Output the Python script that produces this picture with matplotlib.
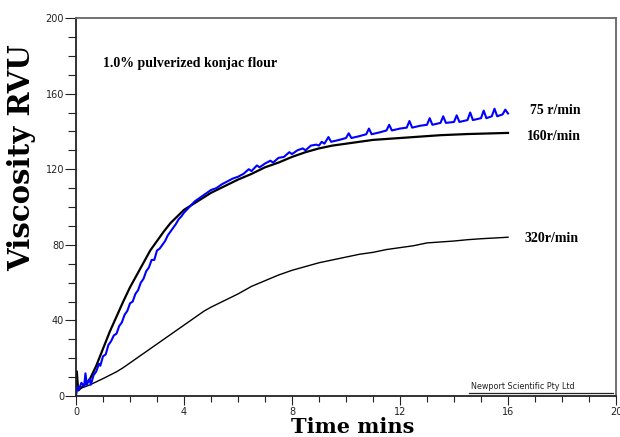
import matplotlib
matplotlib.use("Agg")
import matplotlib.pyplot as plt
from matplotlib.ticker import MultipleLocator

# ---------------------------------------------------------------------------
# Data (time in min, viscosity in RVU)
# ---------------------------------------------------------------------------
t_160 = [0, 0.03, 0.08, 0.25, 0.5, 0.75, 1.0, 1.25, 1.5, 1.75, 2.0, 2.25,
         2.5, 2.75, 3.0, 3.25, 3.5, 3.75, 4.0, 4.5, 5.0, 5.5, 6.0, 6.5, 7.0,
         7.5, 8.0, 8.5, 9.0, 9.5, 10.0, 10.5, 11.0, 11.5, 12.0, 12.5, 13.0,
         13.5, 14.0, 14.5, 15.0, 15.5, 16.0]
v_160 = [2, 13, 3, 5, 8.5, 16, 25, 34, 42, 50, 57.5, 64,
         70.5, 77, 82, 87, 91.5, 95, 98.5, 103, 107.5, 111, 114.5, 117.5, 121,
         123.5, 126.5, 129, 131, 132.5, 133.5, 134.5, 135.5, 136, 136.5, 137, 137.5,
         138, 138.3, 138.6, 138.8, 139, 139.2]

t_320 = [0, 0.25, 0.5, 0.75, 1.0, 1.25, 1.5, 1.75, 2.0, 2.25, 2.5, 2.75,
         3.0, 3.25, 3.5, 3.75, 4.0, 4.25, 4.5, 4.75, 5.0, 5.5, 6.0, 6.5, 7.0,
         7.5, 8.0, 8.5, 9.0, 9.5, 10.0, 10.5, 11.0, 11.5, 12.0, 12.5, 13.0,
         13.5, 14.0, 14.5, 15.0, 15.5, 16.0]
v_320 = [3.5, 4.5, 5.8, 7.5, 9.2, 11, 12.8, 15, 17.5, 20, 22.5, 25,
         27.5, 30, 32.5, 35, 37.5, 40, 42.5, 45, 47, 50.5, 54, 58, 61,
         64, 66.5, 68.5, 70.5, 72, 73.5, 75, 76, 77.5, 78.5, 79.5, 81,
         81.5, 82, 82.7, 83.2, 83.6, 84]

t_75 = [0, 0.05, 0.1, 0.2, 0.3, 0.35, 0.4, 0.5, 0.55, 0.65, 0.75, 0.85,
        0.9, 1.0, 1.1, 1.2, 1.3, 1.4, 1.5, 1.6, 1.7, 1.8, 1.9, 2.0,
        2.1, 2.2, 2.3, 2.4, 2.5, 2.6, 2.7, 2.8, 2.9, 3.0, 3.1, 3.2,
        3.3, 3.4, 3.5, 3.6, 3.7, 3.8, 3.9, 4.0, 4.2, 4.4, 4.6, 4.8,
        5.0, 5.2, 5.4, 5.6, 5.8, 6.0, 6.2, 6.4, 6.5, 6.7, 6.8, 7.0,
        7.2, 7.3, 7.5, 7.7, 7.9, 8.0, 8.2, 8.4, 8.5, 8.7, 8.9, 9.0,
        9.1, 9.2, 9.35, 9.45, 9.75, 10.0, 10.1, 10.2, 10.5, 10.75, 10.85, 10.95,
        11.25, 11.5, 11.6, 11.7, 12.0, 12.25, 12.35, 12.45, 12.75, 13.0, 13.1, 13.2,
        13.5, 13.6, 13.7, 14.0, 14.1, 14.2, 14.5, 14.6, 14.7, 15.0, 15.1, 15.2,
        15.4, 15.5, 15.6, 15.8, 15.9, 16.0]
v_75 = [0, 5, 3, 7, 5, 12, 6, 9, 6, 11, 13, 17,
        16, 21, 22, 27, 29, 32, 33, 37, 39, 43, 45, 49,
        50, 54, 56, 60, 62, 66, 68, 72, 72, 77, 78, 80,
        82, 85, 87, 89, 91, 93.5, 95, 97, 100, 103, 105, 107,
        109, 110, 112, 113.5, 115, 116, 117.5, 120, 119, 122, 121, 123,
        124.5, 123.5, 126, 126.5, 129, 128, 130, 131, 130, 132.5, 133, 132.5,
        134.5, 133.5, 137, 134.5, 135.5, 136.5, 139, 136.5, 137.5, 138.5, 141.5, 138.5,
        139.5, 140.5, 143.5, 140.5, 141.5, 142, 145.5, 142, 143, 143.5, 147, 143.5,
        144.5, 148, 144.5, 145, 148.5, 145, 146, 150, 146, 147, 151, 147,
        148, 152, 148, 149, 151.5, 149.5]

x_ticks = [0, 4, 8, 12, 16, 20]
y_ticks = [0, 40, 80, 120, 160, 200]

curve_labels = [("75 r/min", 16.8, 151), ("160r/min", 16.7, 137.5), ("320r/min", 16.6, 83.5)]

SERIF = ["Liberation Serif", "DejaVu Serif"]

# ---------------------------------------------------------------------------
fig = plt.figure(figsize=(6.2, 4.37), dpi=100)
ax = fig.add_axes([76 / 620, 1 - 396 / 437, 540 / 620, 378 / 437])

ax.plot(t_320, v_320, color="black", lw=1.0)
ax.plot(t_160, v_160, color="black", lw=1.6)
ax.plot(t_75, v_75, color="#0000ff", lw=1.5)

ax.set_xlim(0, 20)
ax.set_ylim(0, 200)
ax.set_xticks(x_ticks)
ax.set_yticks(y_ticks)
ax.xaxis.set_minor_locator(MultipleLocator(1))
ax.yaxis.set_minor_locator(MultipleLocator(10))

ax.tick_params(axis="x", which="major", direction="out", length=6.5, width=0.8,
               pad=1.5, labelsize=7, colors="#222222")
ax.tick_params(axis="x", which="minor", direction="out", length=4.3, width=0.8,
               colors="#222222")
ax.tick_params(axis="y", which="major", direction="out", length=8, width=0.8,
               pad=0.5, labelsize=7, colors="#222222")
ax.tick_params(axis="y", which="minor", direction="out", length=5.5, width=0.8,
               colors="#222222")

for side in ("left", "bottom"):
    ax.spines[side].set_color("#222222")
    ax.spines[side].set_linewidth(1.3)
for side in ("top", "right"):
    ax.spines[side].set_color("#666666")
    ax.spines[side].set_linewidth(1.3)

ax.text(1.0, 176, "1.0% pulverized konjac flour", family=SERIF,
        fontweight="bold", fontsize=10, va="center", ha="left")
for txt, x, y in curve_labels:
    ax.text(x, y, txt, family=SERIF, fontweight="bold", fontsize=10,
            va="center", ha="left")

# instrument maker stamp, underlined, sitting on the x axis
ax.text(0.732, 0.012, "Newport Scientific Pty Ltd", transform=ax.transAxes,
        fontsize=5.8, ha="left", va="bottom", color="#222222")
ax.plot([0.728, 0.995], [0.008, 0.008], transform=ax.transAxes,
        color="#222222", lw=0.9, clip_on=False)

fig.text(22 / 620, 1 - 158 / 437, "Viscosity RVU", rotation=90,
         family="DejaVu Serif", fontweight="bold", fontsize=21,
         ha="center", va="center")
fig.text(353 / 620, 1 - 433 / 437, "Time mins", family="DejaVu Serif",
         fontweight="bold", fontsize=15, ha="center", va="baseline")

fig.savefig("out.png", dpi=100)
